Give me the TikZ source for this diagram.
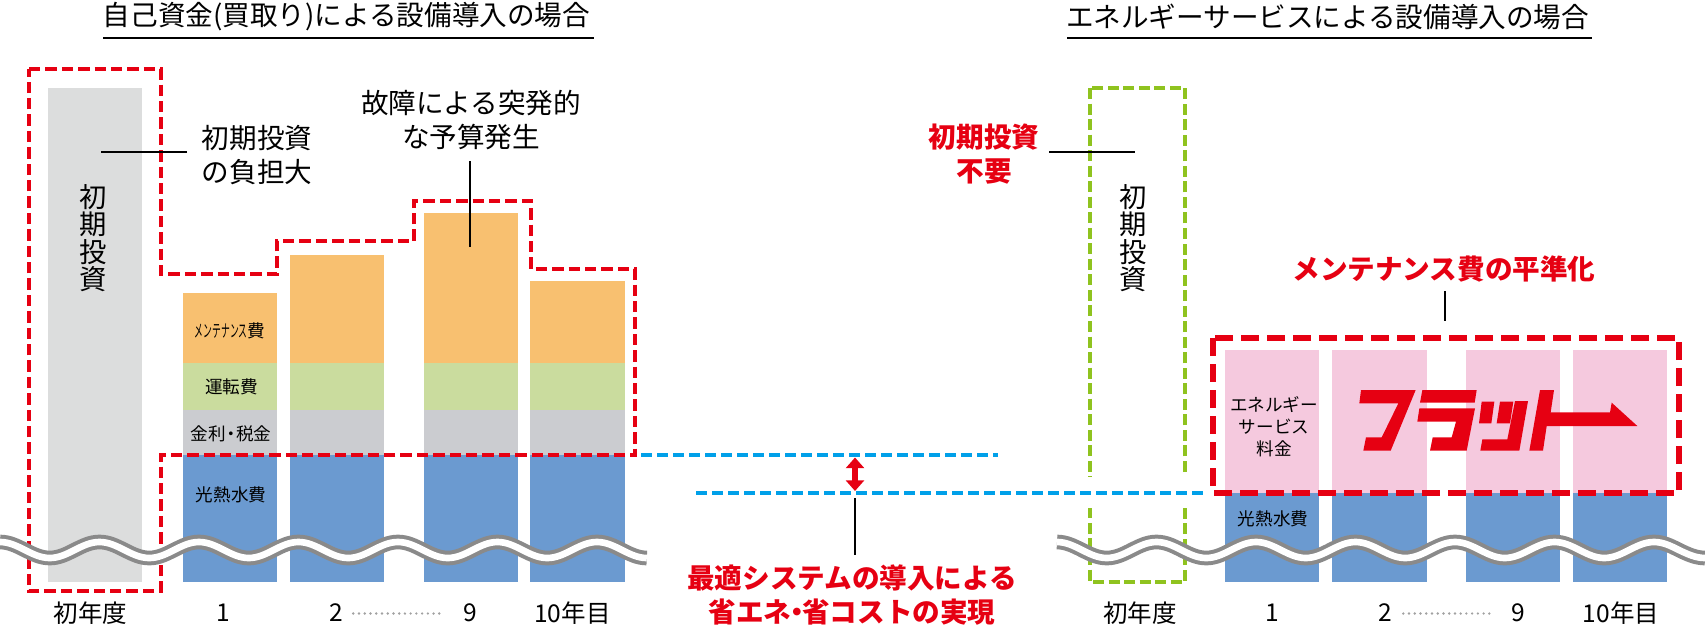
\documentclass[tikz,border=0pt]{standalone}
\usepackage{fontspec}
\setmainfont{Noto Sans CJK JP}
\usetikzlibrary{arrows.meta}

\definecolor{redmark}{RGB}{230,0,18}
\definecolor{cyanmark}{RGB}{0,160,233}
\definecolor{limemark}{RGB}{143,195,31}
\definecolor{initgray}{RGB}{220,221,221}
\definecolor{maintorange}{RGB}{248,192,112}
\definecolor{rungreen}{RGB}{202,220,158}
\definecolor{taxgray}{RGB}{203,204,208}
\definecolor{utilblue}{RGB}{107,154,208}
\definecolor{feepink}{RGB}{245,201,222}
\definecolor{wavegray}{RGB}{138,138,138}

\tikzset{
  every picture/.style={line width=0.75pt},
  headtext/.style={inner sep=0.75pt,font=\fontsize{20.7}{26}\selectfont,align=center},
  redtext/.style={inner sep=0.75pt,text=redmark,font=\fontsize{20.7}{25.5}\selectfont\bfseries,align=center},
  tatetext/.style={inner sep=0.75pt,font=\fontsize{20.5}{20.6}\selectfont,align=center},
  smalltext/.style={inner sep=0.75pt,font=\fontsize{13.2}{16.5}\selectfont,align=center},
  yeartext/.style={inner sep=0.75pt,font=\fontsize{18.4}{22}\selectfont},
  leader/.style={draw=black,line width=0.9pt},
  reddash/.style={draw=redmark,line width=2.6pt,dash pattern={on 8.5pt off 3.8pt}},
  reddashbig/.style={draw=redmark,line width=4.5pt,dash pattern={on 13.5pt off 6pt}},
  limedash/.style={draw=limemark,line width=2.5pt,dash pattern={on 8.25pt off 3.4pt}},
  cyandash/.style={draw=cyanmark,line width=3pt,dash pattern={on 8.25pt off 3.75pt}},
  dotrow/.style={draw=wavegray!80,line width=2pt,line cap=round,dash pattern={on 0pt off 4.3pt}},
  wave/.style={draw=wavegray,double=white,line width=3pt,double distance=5pt},
}

\begin{document}
\begin{tikzpicture}[x=0.75pt,y=0.75pt,yscale=-1,xscale=1]
    \useasboundingbox (0,0) rectangle (1705,625);

    %Titles
    \node [headtext] (titleleft) at (346.5,17) {自己資金(買取り)による設備導入の場合};
    \node [headtext] (titleright) at (1327.5,17) {エネルギーサービスによる設備導入の場合};
    \draw [line width=1.1pt] (103,38) -- (594,38);
    \draw [line width=1.1pt] (1067,38) -- (1592,38);

    %Shape: Rectangle, first year bar
    \fill [initgray] (48,88) rectangle (142,582);
    %Shape: Rectangle, year 1
    \fill [maintorange] (183,293) rectangle (277,363);
    \fill [rungreen] (183,363) rectangle (277,410);
    \fill [taxgray] (183,410) rectangle (277,455);
    \fill [utilblue] (183,455) rectangle (277,582);
    %Shape: Rectangle, year 2
    \fill [maintorange] (290,255) rectangle (384,363);
    \fill [rungreen] (290,363) rectangle (384,410);
    \fill [taxgray] (290,410) rectangle (384,455);
    \fill [utilblue] (290,455) rectangle (384,582);
    %Shape: Rectangle, year 9
    \fill [maintorange] (424,213) rectangle (518,363);
    \fill [rungreen] (424,363) rectangle (518,410);
    \fill [taxgray] (424,410) rectangle (518,455);
    \fill [utilblue] (424,455) rectangle (518,582);
    %Shape: Rectangle, year 10
    \fill [maintorange] (530,281) rectangle (625,363);
    \fill [rungreen] (530,363) rectangle (625,410);
    \fill [taxgray] (530,410) rectangle (625,455);
    \fill [utilblue] (530,455) rectangle (625,582);

    %Red outline, purchase case
    \draw [reddash] (29,69) -- (161,69) -- (161,274) -- (277,274) -- (277,241) -- (414,241) -- (414,201) -- (531,201) -- (531,269) -- (635,269) -- (635,455) -- (161,455) -- (161,591) -- (29,591) -- cycle;

    %Shape: Rectangle, right side
    \draw [limedash] (1090,88) rectangle (1185,582);
    \fill [white] (1085,477) rectangle (1190,508);
    \fill [feepink] (1225,349.5) rectangle (1319,493);
    \fill [feepink] (1332,349.5) rectangle (1427,493);
    \fill [feepink] (1466,349.5) rectangle (1560,493);
    \fill [feepink] (1573,349.5) rectangle (1667,493);
    \fill [utilblue] (1225,493) rectangle (1319,582);
    \fill [utilblue] (1332,493) rectangle (1427,582);
    \fill [utilblue] (1466,493) rectangle (1560,582);
    \fill [utilblue] (1573,493) rectangle (1667,582);
    \draw [reddashbig] (1213,338) rectangle (1679,493);

    %Flat logo
    \begin{scope}[shift={(1300,360)},x=0.25pt,y=0.25pt]
    \fill [redmark] (183,90) -- (347,90) -- (272,272) -- (190,272) -- (198,232) -- (245,232) -- (295,130) -- (178,130) -- cycle;
    \fill [redmark] (367,90) -- (530,90) -- (524,128) -- (360,128) -- cycle;
    \fill [redmark] (358,145) -- (525,145) -- (500,272) -- (390,272) -- (398,232) -- (455,232) -- (468,185) -- (352,185) -- cycle;
    \fill [redmark] (545,125) -- (583,125) -- (574,190) -- (537,190) -- cycle;
    \fill [redmark] (600,125) -- (640,125) -- (630,190) -- (590,190) -- cycle;
    \fill [redmark] (645,123) -- (684,123) -- (658,272) -- (541,272) -- (547,238) -- (622,238) -- cycle;
    \fill [redmark] (720,90) -- (762,90) -- (752,157) -- (930,157) -- (935,128) -- (1012,198) -- (740,198) -- (729,272) -- (688,272) -- cycle;
    \end{scope}

    %Cyan level lines
    \coordinate (levelA) at (641,455);
    \coordinate (levelB) at (998,455);
    \coordinate (levelC) at (696,493);
    \coordinate (levelD) at (1207,493);
    \draw [cyandash] (levelA) -- (levelB);
    \draw [cyandash] (levelC) -- (levelD);
    %Saving arrow
    \coordinate (gapA) at (855,457.5);
    \coordinate (gapB) at (855,491);
    \draw [redmark,line width=4pt,{Triangle[length=8pt,width=13.5pt]}-{Triangle[length=8pt,width=13.5pt]}] (gapA) -- (gapB);

    %Waves
    \draw [wave] (0,542) cos (24.9,550) sin (49.8,558) cos (74.6,550) sin (99.5,542) cos (124.4,550) sin (149.3,558) cos (174.1,550) sin (199,542) cos (223.9,550) sin (248.8,558) cos (273.6,550) sin (298.5,542) cos (323.4,550) sin (348.3,558) cos (373.1,550) sin (398,542) cos (422.9,550) sin (447.8,558) cos (472.6,550) sin (497.5,542) cos (522.4,550) sin (547.3,558) cos (572.1,550) sin (597,542) cos (621.9,550) sin (646.8,558);
    \draw [wave] (1057,542) cos (1081.9,550) sin (1106.8,558) cos (1131.6,550) sin (1156.5,542) cos (1181.4,550) sin (1206.3,558) cos (1231.1,550) sin (1256,542) cos (1280.9,550) sin (1305.8,558) cos (1330.6,550) sin (1355.5,542) cos (1380.4,550) sin (1405.3,558) cos (1430.1,550) sin (1455,542) cos (1479.9,550) sin (1504.8,558) cos (1529.6,550) sin (1554.5,542) cos (1579.4,550) sin (1604.3,558) cos (1629.1,550) sin (1654,542) cos (1678.9,550) sin (1705,558);

    % Text Node
    \node [tatetext] (initleft) at (93,238) {初\\期\\投\\資};
    \node [tatetext] (initright) at (1133,238) {初\\期\\投\\資};
    \node [headtext] (burden) at (257,155) {初期投資\\の負担大};
    \node [headtext] (failure) at (471,120) {故障による突発的\\な予算発生};
    \node [redtext] (noinit) at (984,154) {初期投資\\不要};
    \node [redtext] (flatten) at (1444,269) {メンテナンス費の平準化};
    \node [redtext] (saving) at (852,595) {最適システムの導入による\\省エネ\hspace{-.3em}・\hspace{-.3em}省コストの実現};

    \node [smalltext] (maintlabel) at (230,331) {\scalebox{0.5}[1]{メンテナンス}費};
    \node [smalltext] (runlabel) at (231.5,387) {運転費};
    \node [smalltext] (taxlabel) at (231,433.5) {金利\hspace{-.2em}・\hspace{-.2em}税金};
    \node [smalltext] (utilleft) at (231,495) {光熱水費};
    \node [smalltext] (utilright) at (1273,519) {光熱水費};
    \node [smalltext] (feelabel) at (1274,427) {エネルギー\\サービス\\料金};

    \node [yeartext] (yearA) at (90.5,613) {初年度};
    \node [yeartext] (yearB) at (223,613) {1};
    \node [yeartext] (yearC) at (336,613) {2};
    \node [yeartext] (yearD) at (470,613) {9};
    \node [yeartext] (yearE) at (572.5,613) {10年目};
    \node [yeartext] (rightA) at (1140,613) {初年度};
    \node [yeartext] (rightB) at (1272,613) {1};
    \node [yeartext] (rightC) at (1385,613) {2};
    \node [yeartext] (rightD) at (1518,613) {9};
    \node [yeartext] (rightE) at (1621,613) {10年目};
    \draw [dotrow] (yearC.east) ++(9,0.5) -- ++(90,0);
    \draw [dotrow] (rightC.east) ++(10,0.5) -- ++(90,0);

    %Leader lines
    \coordinate (burdenEnd) at (101,152);
    \coordinate (burdenStart) at (187,152);
    \draw [leader] (burdenStart) -- (burdenEnd);
    \coordinate (failureStart) at (470,161);
    \coordinate (failureEnd) at (470,247);
    \draw [leader] (failureStart) -- (failureEnd);
    \coordinate (noinitStart) at (1049,152);
    \coordinate (noinitEnd) at (1135,152);
    \draw [leader] (noinitStart) -- (noinitEnd);
    \coordinate (flattenStart) at (1445,291);
    \coordinate (flattenEnd) at (1445,321);
    \draw [leader] (flattenStart) -- (flattenEnd);
    \coordinate (savingStart) at (855,498);
    \coordinate (savingEnd) at (855,555);
    \draw [leader] (savingStart) -- (savingEnd);
\end{tikzpicture}
\end{document}
